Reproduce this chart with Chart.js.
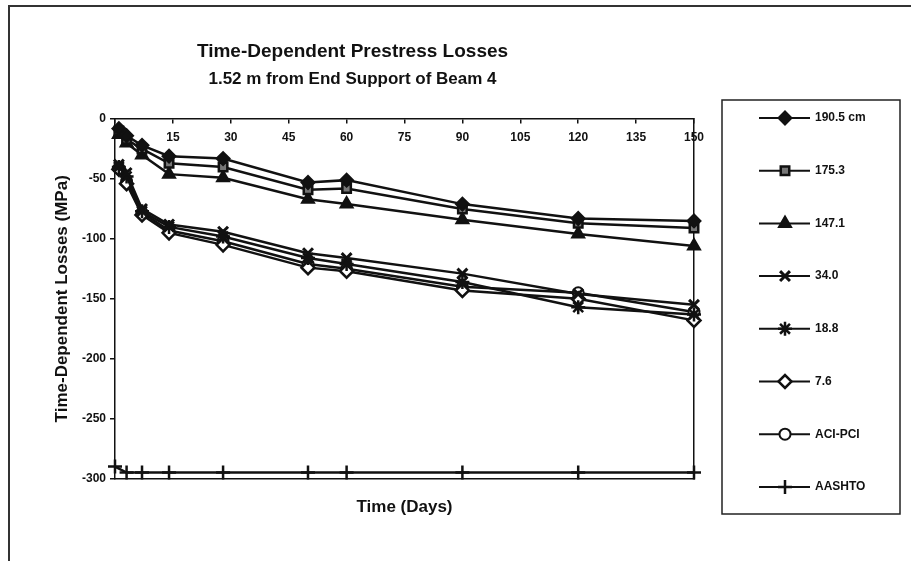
<!DOCTYPE html>
<html>
<head>
<meta charset="utf-8">
<title>Time-Dependent Prestress Losses</title>
<script src="https://cdn.jsdelivr.net/npm/chart.js"></script>
<style>
  html, body { margin: 0; padding: 0; background: #fff; }
  body { width: 911px; height: 561px; position: relative; overflow: hidden; }
  #frame { position: absolute; left: 8px; top: 5px; width: 903px; height: 556px;
           border-left: 2px solid #333; border-top: 2px solid #333; box-sizing: border-box; }
  #lossChart { position: absolute; left: 11px; top: 8px; }
</style>
</head>
<body>
<div id="frame"></div>
<canvas id="lossChart" width="900" height="553"></canvas>
<script>
// measurement days
const days = [1, 3, 7, 14, 28, 50, 60, 90, 120, 150];
const aashtoDays = [0, 3, 7, 14, 28, 50, 60, 90, 120, 150];

// losses in MPa, by gauge height
const loss1905 = [-8, -14, -22, -31, -33, -53, -51, -71, -83, -85];
const loss1753 = [-10, -17, -25, -37, -40, -59, -58, -75, -87, -91];
const loss1471 = [-13, -20, -30, -46, -49, -67, -71, -84, -96, -106];
const loss340 = [-38, -45, -75, -88, -94, -112, -116, -129, -146, -155];
const loss188 = [-40, -48, -77, -90, -98, -116, -121, -136, -157, -163];
const loss76 = [-42, -54, -80, -95, -105, -124, -127, -143, -150, -168];
const lossAciPci = [-41, -52, -78, -93, -102, -121, -125, -140, -145, -161];
const lossAashto = [-290, -295, -295, -295, -295, -295, -295, -295, -295, -295];

const xTickValues = [0, 15, 30, 45, 60, 75, 90, 105, 120, 135, 150];
const yTickValues = [0, -50, -100, -150, -200, -250, -300];

Chart.defaults.font.family = '"Liberation Sans", Arial, sans-serif';
Chart.defaults.color = '#111';

const toPoints = (xs, ys) => xs.map((x, i) => ({ x: x, y: ys[i] }));

function series(label, xs, ys, style, radius, fill, bw) {
    return {
        label: label,
        data: toPoints(xs, ys),
        borderColor: '#111',
        borderWidth: 2.5,
        tension: 0,
        clip: false,
        pointStyle: style,
        pointRadius: radius,
        pointBackgroundColor: fill,
        pointBorderColor: '#111',
        pointBorderWidth: bw
    };
}

// boxed legend on the right: line + marker + label per row
const boxLegend = {
    id: 'boxLegend',
    afterDraw(chart, args, opts) {
        const ctx = chart.ctx;
        ctx.save();
        ctx.strokeStyle = '#222';
        ctx.lineWidth = 1.5;
        ctx.strokeRect(opts.left, opts.top, opts.width, opts.height);
        chart.data.datasets.forEach((ds, i) => {
            const y = opts.firstRow + i * opts.rowGap;
            ctx.strokeStyle = '#111';
            ctx.lineWidth = 2;
            ctx.beginPath();
            ctx.moveTo(opts.lineX0, y);
            ctx.lineTo(opts.lineX1, y);
            ctx.stroke();
            ctx.fillStyle = ds.pointBackgroundColor;
            ctx.strokeStyle = ds.pointBorderColor;
            ctx.lineWidth = ds.pointBorderWidth;
            Chart.helpers.drawPoint(ctx, {
                pointStyle: ds.pointStyle,
                radius: ds.pointRadius,
                borderWidth: ds.pointBorderWidth,
                rotation: 0
            }, opts.markerX, y);
            ctx.fillStyle = '#111';
            ctx.font = 'bold 12px "Liberation Sans", Arial, sans-serif';
            ctx.textBaseline = 'middle';
            ctx.textAlign = 'left';
            ctx.fillText(ds.label, opts.textX, y);
        });
        ctx.restore();
    }
};

const ctx = document.getElementById('lossChart').getContext('2d');
new Chart(ctx, {
    type: 'line',
    data: {
        datasets: [
            series('190.5 cm', days, loss1905, 'rectRot', 6.5, '#111', 2),
            series('175.3', days, loss1753, 'rect', 6, '#777', 2.5),
            series('147.1', days, loss1471, 'triangle', 7, '#111', 2),
            series('34.0', days, loss340, 'crossRot', 7, '#111', 3),
            series('18.8', days, loss188, 'star', 7, '#111', 2.5),
            series('7.6', days, loss76, 'rectRot', 6.5, '#fff', 2.5),
            series('ACI-PCI', days, lossAciPci, 'circle', 5.5, '#fff', 2),
            series('AASHTO', aashtoDays, lossAashto, 'cross', 7, '#111', 2.5)
        ]
    },
    options: {
        responsive: false,
        animation: false,
        layout: { padding: { top: 0, right: 217, bottom: 0, left: 0 } },
        scales: {
            x: {
                type: 'linear',
                min: 0,
                max: 150,
                position: { y: 0 },
                afterBuildTicks: s => { s.ticks = xTickValues.map(v => ({ value: v })); },
                grid: { drawOnChartArea: false, drawTicks: true, tickLength: 4, color: '#111', lineWidth: 1.5 },
                border: { color: '#111', width: 1.5 },
                ticks: {
                    padding: 7,
                    maxRotation: 0,
                    autoSkip: false,
                    font: { size: 12, weight: 'bold' },
                    callback: v => (v === 0 ? '' : String(v))
                }
            },
            x2: {
                type: 'linear',
                axis: 'x',
                position: 'bottom',
                min: 0,
                max: 150,
                grid: { drawOnChartArea: false, drawTicks: false },
                border: { color: '#111', width: 1.5 },
                ticks: { display: false },
                title: {
                    display: true,
                    text: 'Time (Days)',
                    font: { size: 17, weight: 'bold' },
                    padding: { top: 19, bottom: 43 }
                }
            },
            y: {
                type: 'linear',
                position: 'left',
                min: -300,
                max: 0,
                afterBuildTicks: s => { s.ticks = yTickValues.map(v => ({ value: v })); },
                afterFit: s => { s.width = 104; },
                grid: { drawOnChartArea: false, drawTicks: true, tickLength: 5, color: '#111', lineWidth: 1.5 },
                border: { color: '#111', width: 1.5 },
                ticks: {
                    padding: 4,
                    font: { size: 12, weight: 'bold' },
                    callback: v => String(v)
                },
                title: {
                    display: true,
                    text: 'Time-Dependent Losses (MPa)',
                    font: { size: 17, weight: 'bold' },
                    padding: { top: 41, bottom: 0 }
                }
            },
            y2: {
                type: 'linear',
                axis: 'y',
                position: 'right',
                min: -300,
                max: 0,
                grid: { drawOnChartArea: false, drawTicks: false },
                border: { color: '#111', width: 1.5 },
                ticks: { display: false }
            }
        },
        plugins: {
            legend: { display: false },
            tooltip: { enabled: false },
            title: {
                display: true,
                text: 'Time-Dependent Prestress Losses',
                font: { size: 19, weight: 'bold' },
                padding: { top: 32.6, bottom: 0 }
            },
            subtitle: {
                display: true,
                text: '1.52 m from End Support of Beam 4',
                color: '#111',
                font: { size: 17, weight: 'bold' },
                padding: { top: 5.4, bottom: 29.8 }
            },
            boxLegend: {
                left: 711, top: 92, width: 178, height: 414,
                firstRow: 110, rowGap: 52.7,
                lineX0: 748, lineX1: 799, markerX: 774, textX: 804
            }
        }
    },
    plugins: [boxLegend]
});
</script>
</body>
</html>
